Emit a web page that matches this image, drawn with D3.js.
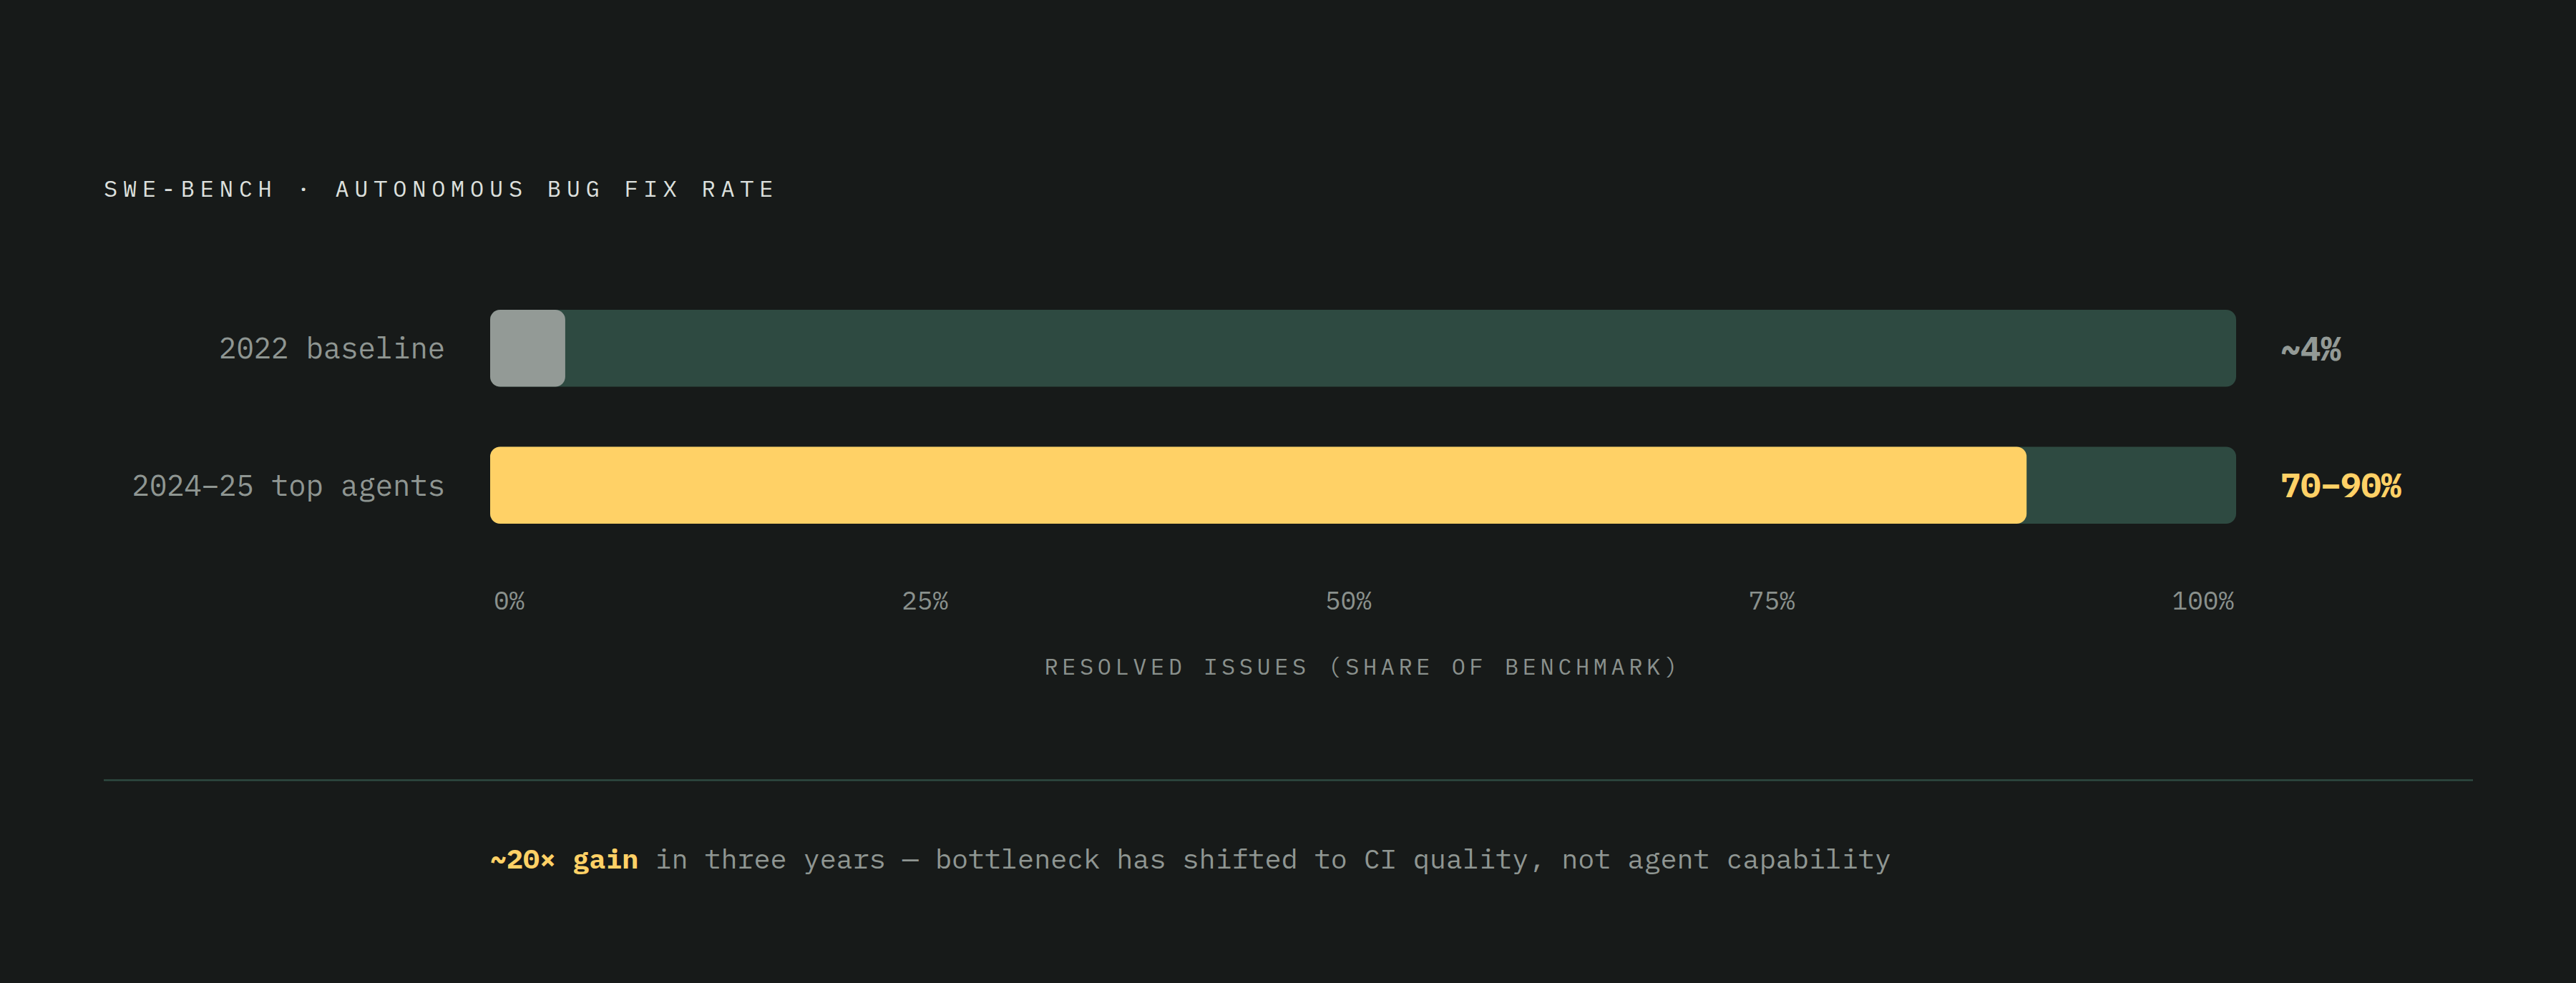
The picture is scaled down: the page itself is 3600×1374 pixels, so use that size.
<!DOCTYPE html>
<html>
<head>
<meta charset="utf-8">
<script src="https://cdn.jsdelivr.net/npm/d3@7"></script>
<style>
  html, body { margin: 0; padding: 0; background: #171a19; }
  svg { display: block; }
  text { font-family: "IBM Plex Mono", "DejaVu Sans Mono", monospace; }
</style>
</head>
<body>
<div id="chart"></div>
<script>
const W = 3600, H = 1374;

/* data */
const categories = ["2022 baseline", "2024–25 top agents"];
const values = [4.3, 88];
const valueLabels = ["~4%", "70–90%"];
const barColors = ["#939a96", "#ffd166"];
const tickValues = [0, 25, 50, 75, 100];
const title = "SWE-BENCH · AUTONOMOUS BUG FIX RATE";
const axisTitle = "RESOLVED ISSUES (SHARE OF BENCHMARK)";
const noteLead = "~20× gain";
const noteRest = " in three years — bottleneck has shifted to CI quality, not agent capability";

const x = d3.scaleLinear()
  .domain([0, 100])
  .range([685, 3125]);

const y = d3.scaleBand()
  .domain(categories)
  .range([433, 732])
  .paddingInner(0.4386);

const svg = d3.select("#chart").append("svg")
  .attr("width", W)
  .attr("height", H);

svg.append("rect").attr("width", W).attr("height", H).attr("fill", "#171a19");

/* title */
svg.append("text")
  .attr("x", 145)
  .attr("y", 275)
  .attr("fill", "#dde0de")
  .style("font-size", "32px")
  .style("letter-spacing", "7.75px")
  .text(title);

/* tracks */
const rows = svg.append("g").selectAll("g")
  .data(categories)
  .join("g");

rows.append("rect")
  .attr("x", x(0))
  .attr("y", d => y(d))
  .attr("width", x(100) - x(0))
  .attr("height", y.bandwidth())
  .attr("rx", 14)
  .attr("fill", "#2e4a41");

rows.append("rect")
  .attr("x", x(0))
  .attr("y", d => y(d))
  .attr("width", (d, i) => x(values[i]) - x(0))
  .attr("height", y.bandwidth())
  .attr("rx", 14)
  .attr("fill", (d, i) => barColors[i]);

/* category labels */
rows.append("text")
  .attr("x", 622)
  .attr("y", d => y(d) + y.bandwidth() / 2)
  .attr("dy", "0.36em")
  .attr("text-anchor", "end")
  .attr("fill", "#8f9692")
  .style("font-size", "40.5px")
  .text(d => d);

/* value labels */
rows.append("text")
  .attr("x", x(100) + 62)
  .attr("y", d => y(d) + y.bandwidth() / 2)
  .attr("dy", "0.36em")
  .attr("fill", (d, i) => barColors[i])
  .style("font-size", "47.5px")
  .style("font-weight", "bold")
  .style("letter-spacing", "-0.4px")
  .text((d, i) => valueLabels[i]);

/* axis: labels spread edge to edge like a space-between row */
const axis = svg.append("g")
  .attr("transform", "translate(0,852)")
  .call(d3.axisBottom(x).tickValues(tickValues).tickFormat(d => d + "%").tickSize(0).tickPadding(0));

axis.select(".domain").remove();
const tickText = axis.selectAll(".tick text")
  .attr("dy", 0)
  .attr("fill", "#8a918d")
  .style("font-size", "36px")
  .style("font-family", null);

const rowStart = x(0) + 5, rowEnd = x(100) - 3;
const widths = tickText.nodes().map(n => n.getComputedTextLength());
const gap = (rowEnd - rowStart - d3.sum(widths)) / (widths.length - 1);
let cursor = rowStart;
axis.selectAll(".tick").each(function(d, i) {
  d3.select(this).attr("transform", `translate(${cursor},0)`)
    .select("text").attr("x", 0).attr("text-anchor", "start");
  cursor += widths[i] + gap;
});

/* axis title */
svg.append("text")
  .attr("x", (x(0) + x(100)) / 2)
  .attr("y", 943)
  .attr("text-anchor", "middle")
  .attr("fill", "#8a918d")
  .style("font-size", "32px")
  .style("letter-spacing", "5.55px")
  .text(axisTitle);

/* divider */
svg.append("line")
  .attr("x1", 145).attr("x2", 3456)
  .attr("y1", 1090.5).attr("y2", 1090.5)
  .attr("stroke", "#2e4a41")
  .attr("stroke-width", 2.5);

/* footnote */
const note = svg.append("text")
  .attr("x", x(0))
  .attr("y", 1214)
  .style("font-size", "38.4px")
  .style("white-space", "pre");

note.append("tspan")
  .attr("fill", "#ffd166")
  .style("font-weight", "bold")
  .text(noteLead);

note.append("tspan")
  .attr("fill", "#8f9692")
  .text(noteRest);
</script>
</body>
</html>
